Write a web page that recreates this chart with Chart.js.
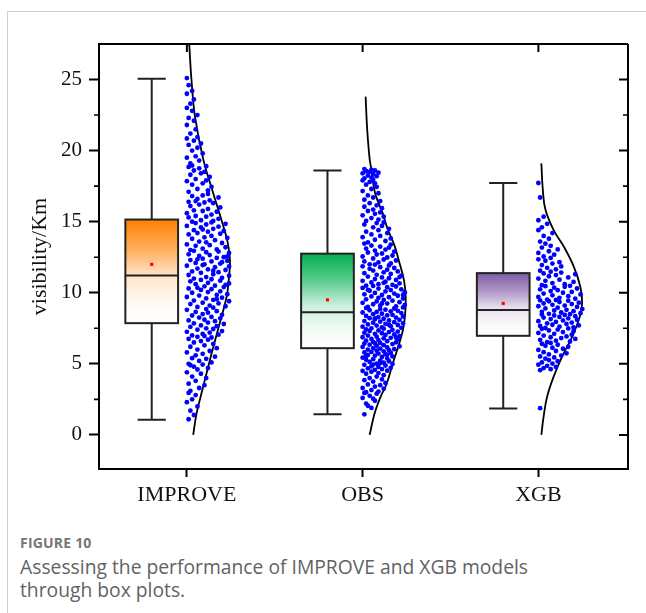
<!DOCTYPE html>
<html>
<head>
<meta charset="utf-8">
<script src="https://cdn.jsdelivr.net/npm/chart.js@4.4.0/dist/chart.umd.min.js"></script>
<style>
  body { margin: 0; background: #fff; width: 646px; height: 613px; overflow: hidden; position: relative; }
  #card { position: absolute; left: 7px; top: 11px; right: -2px; bottom: -2px; border-top: 1px solid #cfcfcf; border-left: 1px solid #cfcfcf; }
  #chart { position: absolute; left: 0; top: 0; }
  .fig { position: absolute; left: 20px; top: 533px; font-family: 'Open Sans', 'Noto Sans', sans-serif; font-weight: 700; font-size: 14px; color: #767676; letter-spacing: 0.2px; }
  .cap { position: absolute; left: 20px; top: 555px; font-family: 'Open Sans', 'Noto Sans', sans-serif; font-size: 19.3px; line-height: 23px; color: #626262; }
</style>
</head>
<body>
<div id="card"></div>
<canvas id="chart" width="646" height="520"></canvas>
<div class="fig">FIGURE 10</div>
<div class="cap">Assessing the performance of IMPROVE and XGB models<br>through box plots.</div>
<script>
/* ------------------------------------------------------------
   Box plots + jittered points + distribution curves
   ------------------------------------------------------------ */

// --- data ---------------------------------------------------
const CATEGORIES = ['IMPROVE', 'OBS', 'XGB'];
const WHISKER_LOW = [1.06, 1.45, 1.85];
const BOX_Q1 = [7.86, 6.1, 6.97];
const BOX_MEDIAN = [11.22, 8.62, 8.78];
const BOX_Q3 = [15.15, 12.75, 11.38];
const WHISKER_HIGH = [25.05, 18.6, 17.72];
const BOX_MEAN = [12.0, 9.5, 9.25];

const Y_LABEL_TICKS = [0, 5, 10, 15, 20, 25];
const Y_MINOR_TICKS = [2.5, 7.5, 12.5, 17.5, 22.5];

// distribution curves: [visibility, width (category units)]
const CURVE_IMPROVE = [
  [0, 0.036], [1.5, 0.055], [3.4, 0.093], [5.75, 0.141], [7.9, 0.188], [9.7, 0.226],
  [11, 0.239], [12.3, 0.245], [13.6, 0.231], [14.7, 0.207], [17, 0.15], [19.4, 0.093],
  [22.4, 0.046], [25, 0.026], [26.5, 0.018], [28.5, 0.009]
];
const CURVE_OBS = [
  [0, 0.04], [1.5, 0.068], [2.7, 0.103], [3.6, 0.137], [5, 0.171], [7.2, 0.226],
  [8.5, 0.242], [9.7, 0.245], [10.9, 0.235], [12.3, 0.205], [13.3, 0.182], [14.5, 0.142],
  [15.6, 0.114], [17, 0.071], [18.6, 0.051], [19.4, 0.04], [21.5, 0.026], [23.8, 0.017]
];
const CURVE_XGB = [
  [0, 0.017], [1.3, 0.03], [2.7, 0.05], [4.1, 0.087], [5.5, 0.135], [6.9, 0.192],
  [8.3, 0.235], [9.3, 0.249], [10.4, 0.239], [11.85, 0.201], [13.26, 0.144], [14.4, 0.087],
  [15.85, 0.04], [17.3, 0.025], [19.1, 0.017]
];

// raw points: [jitter (category units), visibility]
const PTS_IMPROVE = [
  [0.01,1.1],[0.04,1.4],[0.02,1.7],[0.06,2.0],[0.00,2.3],[0.03,2.5],[0.05,2.8],[0.01,2.95],
  [0.02,3.1],[0.07,3.3],[0.10,3.5],[0.01,3.6],[0.05,3.8],[0.11,4.0],[0.03,4.1],[0.08,4.3],[0.00,4.4],[0.06,4.6],[0.12,4.7],[0.04,4.8],[0.09,4.95],[0.02,4.9],
  [0.01,5.0],[0.14,5.1],[0.07,5.2],[0.11,5.35],[0.03,5.4],[0.16,5.5],[0.05,5.6],[0.09,5.7],[0.00,5.8],[0.13,5.9],[0.06,6.0],[0.17,6.1],[0.02,6.2],[0.10,6.3],[0.15,6.4],[0.04,6.5],[0.08,6.6],[0.12,6.7],[0.01,6.75],[0.14,6.85],[0.06,6.9],[0.10,6.95],
  [0.03,7.0],[0.18,7.05],[0.09,7.1],[0.13,7.2],[0.00,7.25],[0.20,7.3],[0.06,7.4],[0.15,7.45],[0.11,7.5],[0.02,7.6],[0.17,7.65],[0.08,7.7],[0.21,7.8],[0.04,7.85],[0.12,7.9],[0.16,8.0],[0.01,8.05],[0.10,8.1],[0.19,8.2],[0.07,8.25],[0.14,8.3],[0.03,8.4],[0.20,8.45],[0.09,8.5],[0.12,8.6],[0.05,8.65],[0.17,8.7],[0.00,8.8],[0.11,8.85],[0.15,8.95],
  [0.06,9.0],[0.22,9.05],[0.13,9.1],[0.02,9.2],[0.18,9.25],[0.09,9.3],[0.24,9.4],[0.04,9.45],[0.15,9.5],[0.11,9.6],[0.20,9.65],[0.00,9.7],[0.07,9.8],[0.17,9.85],[0.23,9.9],[0.03,10.0],[0.12,10.05],[0.19,10.1],[0.08,10.2],[0.14,10.25],[0.01,10.3],[0.21,10.4],[0.10,10.45],[0.16,10.5],[0.05,10.6],[0.24,10.65],[0.12,10.7],[0.02,10.8],[0.19,10.85],[0.08,10.9],[0.14,10.95],[0.22,10.55],[0.06,10.35],[0.17,9.55],
  [0.04,11.0],[0.20,11.05],[0.11,11.1],[0.24,11.2],[0.01,11.25],[0.15,11.3],[0.08,11.4],[0.18,11.45],[0.03,11.5],[0.22,11.6],[0.12,11.65],[0.06,11.7],[0.16,11.8],[0.24,11.85],[0.00,11.9],[0.10,12.0],[0.19,12.05],[0.05,12.1],[0.14,12.2],[0.23,12.25],[0.02,12.3],[0.09,12.4],[0.17,12.45],[0.21,12.5],[0.07,12.6],[0.13,12.65],[0.01,12.7],[0.24,12.8],[0.11,12.85],[0.18,12.9],[0.04,12.95],[0.15,11.55],[0.20,12.15],[0.09,11.95],[0.23,12.55],[0.06,12.35],
  [0.02,13.0],[0.17,13.05],[0.09,13.1],[0.22,13.2],[0.05,13.3],[0.13,13.35],[0.00,13.4],[0.20,13.5],[0.11,13.55],[0.07,13.6],[0.16,13.7],[0.03,13.8],[0.23,13.85],[0.10,13.9],[0.14,14.0],[0.01,14.1],[0.19,14.15],[0.06,14.2],[0.12,14.3],[0.21,14.35],[0.04,14.4],[0.15,14.5],[0.08,14.6],[0.18,14.65],[0.00,14.7],[0.11,14.8],[0.22,14.85],[0.05,14.9],[0.14,14.95],[0.09,14.45],
  [0.03,15.0],[0.15,15.05],[0.08,15.1],[0.18,15.2],[0.01,15.3],[0.11,15.35],[0.05,15.4],[0.14,15.5],[0.00,15.6],[0.17,15.7],[0.09,15.75],[0.04,15.8],[0.12,15.9],[0.19,16.0],[0.02,16.1],[0.07,16.2],[0.15,16.3],[0.10,16.35],[0.01,16.4],[0.13,16.5],[0.06,16.6],[0.18,16.7],[0.03,16.8],[0.09,16.85],[0.12,16.95],[0.05,16.45],
  [0.01,17.1],[0.12,17.2],[0.06,17.3],[0.14,17.45],[0.03,17.6],[0.09,17.7],[0.00,17.85],[0.11,17.9],[0.05,18.0],[0.13,18.15],[0.02,18.3],[0.08,18.4],[0.10,18.5],[0.04,18.6],[0.07,18.75],[0.01,18.85],[0.11,18.9],[0.03,18.95],
  [0.02,19.1],[0.07,19.3],[0.00,19.5],[0.05,19.6],[0.09,19.8],[0.03,20.0],[0.06,20.2],[0.01,20.4],[0.08,20.5],[0.04,20.7],[0.00,20.85],[0.06,20.95],
  [0.02,21.2],[0.05,21.5],[0.00,21.8],[0.04,22.1],[0.01,22.3],[0.06,22.5],[0.03,22.8],[0.00,23.0],
  [0.02,23.3],[0.04,23.6],[0.00,24.0],[0.03,24.2],[0.01,24.6],[0.00,25.1]
];
const PTS_OBS = [
  [0.01,1.45],[0.05,1.9],[0.02,2.2],[0.07,2.4],[0.00,2.6],[0.04,2.75],[0.08,2.9],[0.03,2.05],[0.06,2.55],[0.01,2.95],
  [0.02,3.0],[0.09,3.05],[0.05,3.15],[0.12,3.25],[0.00,3.3],[0.07,3.4],[0.10,3.5],[0.03,3.55],[0.13,3.65],[0.06,3.75],[0.01,3.85],[0.11,3.9],[0.04,4.0],[0.08,4.1],[0.12,4.2],[0.02,4.3],[0.09,4.35],[0.05,4.45],
  [0.00,4.5],[0.14,4.52],[0.07,4.58],[0.11,4.63],[0.03,4.68],[0.16,4.72],[0.09,4.78],[0.05,4.83],[0.13,4.88],[0.01,4.93],[0.17,4.98],[0.08,5.02],[0.12,5.08],[0.04,5.13],[0.15,5.18],[0.10,5.23],[0.02,5.28],[0.06,5.33],[0.14,5.38],[0.00,5.43],[0.11,5.48],[0.17,5.52],[0.07,5.57],[0.03,5.62],[0.13,5.67],[0.09,5.72],[0.16,5.76],[0.01,5.8],[0.05,5.84],[0.12,5.88],[0.08,5.92],[0.15,5.96],[0.02,5.55],[0.10,5.05],[0.06,4.95],[0.14,5.65],
  [0.03,6.0],[0.18,6.03],[0.10,6.07],[0.06,6.11],[0.14,6.15],[0.00,6.19],[0.21,6.23],[0.08,6.27],[0.12,6.31],[0.04,6.35],[0.17,6.39],[0.01,6.43],[0.10,6.47],[0.19,6.51],[0.06,6.55],[0.14,6.59],[0.02,6.63],[0.09,6.67],[0.20,6.71],[0.05,6.75],[0.12,6.79],[0.16,6.83],[0.00,6.87],[0.08,6.91],[0.21,6.95],[0.03,6.99],[0.13,7.03],[0.18,7.07],[0.07,7.11],[0.11,7.15],[0.01,7.19],[0.15,7.23],[0.20,7.27],[0.04,7.31],[0.09,7.35],[0.17,7.39],[0.02,7.43],[0.12,7.47],[0.07,6.45],[0.19,6.85],
  [0.05,7.5],[0.22,7.53],[0.11,7.57],[0.00,7.61],[0.16,7.65],[0.08,7.69],[0.20,7.73],[0.03,7.77],[0.13,7.81],[0.23,7.85],[0.06,7.89],[0.18,7.93],[0.10,7.97],[0.01,8.01],[0.15,8.05],[0.21,8.09],[0.07,8.13],[0.12,8.17],[0.04,8.21],[0.19,8.25],[0.09,8.29],[0.23,8.33],[0.02,8.37],[0.14,8.41],[0.17,8.45],[0.06,8.49],[0.11,8.53],[0.22,8.57],[0.00,8.61],[0.08,8.65],[0.16,8.69],[0.20,8.73],[0.04,8.77],[0.13,8.81],[0.10,8.85],[0.18,8.89],[0.02,8.93],[0.23,8.97],[0.07,8.2],[0.15,7.75],
  [0.03,9.0],[0.19,9.04],[0.10,9.09],[0.24,9.14],[0.06,9.19],[0.14,9.24],[0.00,9.29],[0.21,9.34],[0.08,9.39],[0.17,9.44],[0.12,9.49],[0.02,9.54],[0.23,9.59],[0.09,9.64],[0.15,9.69],[0.05,9.74],[0.20,9.79],[0.11,9.84],[0.01,9.89],[0.18,9.94],[0.07,9.99],[0.24,10.04],[0.13,10.09],[0.04,10.14],[0.16,10.19],[0.22,10.24],[0.09,10.29],[0.00,10.34],[0.14,10.39],[0.19,10.44],[0.06,10.48],[0.11,9.25],[0.23,9.85],[0.03,10.2],
  [0.02,10.5],[0.17,10.55],[0.09,10.6],[0.21,10.66],[0.05,10.72],[0.13,10.78],[0.00,10.84],[0.19,10.9],[0.07,10.96],[0.15,11.02],[0.11,11.08],[0.03,11.14],[0.22,11.2],[0.08,11.26],[0.16,11.32],[0.01,11.38],[0.12,11.44],[0.20,11.5],[0.06,11.56],[0.14,11.62],[0.04,11.68],[0.18,11.74],[0.10,11.8],[0.00,11.86],[0.15,11.92],[0.07,11.98],[0.21,11.1],[0.12,10.7],
  [0.04,12.0],[0.16,12.06],[0.09,12.13],[0.01,12.2],[0.19,12.27],[0.12,12.34],[0.06,12.41],[0.14,12.48],[0.00,12.55],[0.17,12.62],[0.08,12.69],[0.11,12.76],[0.03,12.83],[0.18,12.9],[0.07,12.97],[0.13,13.04],[0.02,13.11],[0.15,13.18],[0.10,13.25],[0.05,13.32],[0.16,13.39],[0.01,13.46],
  [0.03,13.55],[0.13,13.64],[0.07,13.73],[0.16,13.82],[0.00,13.91],[0.10,14.0],[0.05,14.1],[0.14,14.2],[0.02,14.3],[0.09,14.4],[0.15,14.5],[0.06,14.6],[0.11,14.7],[0.01,14.8],[0.08,14.9],[0.12,14.95],
  [0.02,15.05],[0.09,15.15],[0.05,15.25],[0.12,15.35],[0.00,15.45],[0.07,15.55],[0.10,15.65],[0.03,15.75],[0.06,15.85],[0.11,15.95],[0.01,16.05],[0.08,16.15],[0.04,16.3],[0.10,16.45],
  [0.01,16.55],[0.06,16.7],[0.03,16.85],[0.09,17.0],[0.00,17.15],[0.05,17.3],[0.08,17.45],[0.02,17.6],[0.07,17.7],[0.04,17.8],[0.00,17.9],[0.06,17.95],
  [0.01,18.05],[0.05,18.1],[0.08,18.2],[0.03,18.25],[0.06,18.35],[0.00,18.4],[0.09,18.45],[0.04,18.5],[0.02,18.55],[0.07,18.6],[0.05,18.65],[0.01,18.7]
];
const PTS_XGB = [
  [0.01,1.88],
  [0.01,4.55],[0.07,4.62],[0.03,4.7],[0.10,4.78],[0.05,4.86],[0.00,4.94],[0.08,5.02],[0.02,5.1],[0.11,5.18],[0.06,5.26],[0.04,5.36],[0.09,5.45],
  [0.01,5.52],[0.13,5.58],[0.06,5.66],[0.16,5.74],[0.03,5.82],[0.10,5.9],[0.00,5.98],[0.14,6.06],[0.08,6.13],[0.17,6.2],[0.04,6.27],[0.11,6.34],[0.02,6.41],[0.07,6.47],
  [0.05,6.52],[0.18,6.57],[0.10,6.63],[0.01,6.69],[0.21,6.75],[0.13,6.81],[0.07,6.87],[0.16,6.93],[0.03,6.99],[0.19,7.05],[0.09,7.11],[0.00,7.17],[0.14,7.23],[0.20,7.29],[0.06,7.35],[0.11,7.41],[0.02,7.46],[0.17,7.49],
  [0.04,7.52],[0.20,7.56],[0.12,7.61],[0.01,7.66],[0.23,7.7],[0.08,7.75],[0.16,7.8],[0.05,7.85],[0.19,7.9],[0.10,7.95],[0.00,8.0],[0.14,8.05],[0.22,8.1],[0.07,8.15],[0.17,8.2],[0.03,8.25],[0.12,8.3],[0.21,8.35],[0.09,8.4],[0.15,8.44],[0.02,8.47],[0.18,8.49],
  [0.06,8.52],[0.24,8.56],[0.13,8.61],[0.02,8.66],[0.20,8.7],[0.09,8.75],[0.16,8.8],[0.25,8.85],[0.04,8.9],[0.11,8.95],[0.22,9.0],[0.00,9.05],[0.15,9.1],[0.08,9.15],[0.19,9.2],[0.03,9.25],[0.23,9.3],[0.12,9.35],[0.06,9.4],[0.17,9.44],[0.01,9.47],[0.10,9.49],
  [0.05,9.52],[0.21,9.58],[0.12,9.64],[0.00,9.7],[0.17,9.76],[0.08,9.82],[0.24,9.88],[0.03,9.94],[0.14,10.0],[0.19,10.06],[0.07,10.12],[0.11,10.18],[0.01,10.24],[0.22,10.3],[0.09,10.36],[0.15,10.42],[0.04,10.46],[0.18,10.49],
  [0.02,10.53],[0.15,10.6],[0.08,10.68],[0.20,10.76],[0.04,10.84],[0.12,10.92],[0.00,11.0],[0.17,11.08],[0.06,11.16],[0.10,11.24],[0.21,11.3],[0.03,11.36],[0.13,11.42],[0.07,11.48],
  [0.01,11.55],[0.10,11.65],[0.05,11.75],[0.13,11.85],[0.02,11.95],[0.08,12.05],[0.12,12.15],[0.04,12.25],[0.00,12.35],[0.07,12.45],
  [0.03,12.55],[0.09,12.68],[0.00,12.8],[0.06,12.92],[0.11,13.05],[0.02,13.18],[0.07,13.3],[0.04,13.45],
  [0.01,13.6],[0.06,13.8],[0.03,14.0],[0.08,14.2],[0.00,14.4],
  [0.02,14.6],[0.05,14.85],[0.00,15.1],[0.03,15.35],
  [0.01,16.7],[0.00,17.72]
];

// --- style --------------------------------------------------
const BOX_COLORS = [[255, 128, 0], [0, 176, 80], [128, 92, 164]];
const AXIS_FONT = "'Liberation Serif', 'Times New Roman', serif";
const BOX_SHIFT = -0.2;
const BOX_HALF = 0.15;
const CAP_HALF = 0.08;
const LINE_COLOR = '#222';

// ---------------------------------------------------------
// Box / whisker drawing (uses chart scales)
// ---------------------------------------------------------
const boxPlugin = {
  id: 'boxes',
  beforeDatasetsDraw(chart) {
    const { ctx, scales: { x, y } } = chart;
    ctx.save();
    CATEGORIES.forEach((_, i) => {
      const c = i + 1 + BOX_SHIFT;
      const cx = x.getPixelForValue(c);
      const l = x.getPixelForValue(c - BOX_HALF);
      const r = x.getPixelForValue(c + BOX_HALF);
      const cl = x.getPixelForValue(c - CAP_HALF);
      const cr = x.getPixelForValue(c + CAP_HALF);
      const yLo = y.getPixelForValue(WHISKER_LOW[i]);
      const yQ1 = y.getPixelForValue(BOX_Q1[i]);
      const yMed = y.getPixelForValue(BOX_MEDIAN[i]);
      const yQ3 = y.getPixelForValue(BOX_Q3[i]);
      const yHi = y.getPixelForValue(WHISKER_HIGH[i]);

      ctx.strokeStyle = LINE_COLOR;
      ctx.lineWidth = 2;
      ctx.beginPath();
      ctx.moveTo(cx, yQ3); ctx.lineTo(cx, yHi);
      ctx.moveTo(cl, yHi); ctx.lineTo(cr, yHi);
      ctx.moveTo(cx, yQ1); ctx.lineTo(cx, yLo);
      ctx.moveTo(cl, yLo); ctx.lineTo(cr, yLo);
      ctx.stroke();

      // gradient fill: colour at Q3 fading to white at Q1
      const [R, G, B] = BOX_COLORS[i];
      const grad = ctx.createLinearGradient(0, yQ3, 0, yQ1);
      grad.addColorStop(0, `rgba(${R},${G},${B},1)`);
      grad.addColorStop(0.3, `rgba(${R},${G},${B},0.62)`);
      grad.addColorStop(0.55, `rgba(${R},${G},${B},0.2)`);
      grad.addColorStop(0.8, `rgba(${R},${G},${B},0.05)`);
      grad.addColorStop(1, `rgba(${R},${G},${B},0)`);
      ctx.fillStyle = '#fff';
      ctx.fillRect(l, yQ3, r - l, yQ1 - yQ3);
      ctx.fillStyle = grad;
      ctx.fillRect(l, yQ3, r - l, yQ1 - yQ3);

      ctx.strokeRect(l, yQ3, r - l, yQ1 - yQ3);
      ctx.beginPath();
      ctx.moveTo(l, yMed); ctx.lineTo(r, yMed);
      ctx.stroke();
    });
    ctx.restore();
  },
};

// ---------------------------------------------------------
// Frame: right/top borders, inward ticks, minor ticks
// ---------------------------------------------------------
const framePlugin = {
  id: 'frame',
  afterDraw(chart) {
    const { ctx, chartArea: a, scales: { x, y } } = chart;
    ctx.save();
    ctx.strokeStyle = '#000';
    ctx.lineWidth = 2;
    ctx.beginPath();
    ctx.moveTo(a.left - 1, a.top); ctx.lineTo(a.right, a.top);
    ctx.moveTo(a.right, a.top); ctx.lineTo(a.right, a.bottom + 1);
    ctx.stroke();

    ctx.beginPath();
    Y_LABEL_TICKS.forEach(v => {
      const py = y.getPixelForValue(v);
      ctx.moveTo(a.right, py); ctx.lineTo(a.right - 9, py);
    });
    CATEGORIES.forEach((_, i) => {
      const px = x.getPixelForValue(i + 1);
      ctx.moveTo(px, a.top); ctx.lineTo(px, a.top + 8);
    });
    ctx.stroke();

    ctx.lineWidth = 1.6;
    ctx.beginPath();
    Y_MINOR_TICKS.forEach(v => {
      const py = y.getPixelForValue(v);
      ctx.moveTo(a.left, py); ctx.lineTo(a.left - 5, py);
      ctx.moveTo(a.right, py); ctx.lineTo(a.right - 5, py);
    });
    ctx.stroke();
    ctx.restore();
  },
};

// ---------------------------------------------------------
// Datasets
// ---------------------------------------------------------
const POINT_SETS = [PTS_IMPROVE, PTS_OBS, PTS_XGB];
const CURVES = [CURVE_IMPROVE, CURVE_OBS, CURVE_XGB];

const datasets = [];
POINT_SETS.forEach((pts, i) => {
  datasets.push({
    type: 'scatter',
    label: CATEGORIES[i] + ' points',
    data: pts.map(([j, v]) => ({ x: i + 1 + j, y: v })),
    backgroundColor: '#0000ff',
    borderWidth: 0,
    pointRadius: 2.4,
  });
});
CURVES.forEach((curve, i) => {
  datasets.push({
    type: 'line',
    label: CATEGORIES[i] + ' curve',
    data: curve.map(([v, w]) => ({ x: i + 1 + w, y: v })),
    borderColor: '#000',
    borderWidth: 1.8,
    pointRadius: 0,
    tension: 0.4,
    fill: false,
  });
});
datasets.push({
  type: 'scatter',
  label: 'Mean',
  data: BOX_MEAN.map((m, i) => ({ x: i + 1 + BOX_SHIFT, y: m })),
  backgroundColor: '#ff0000',
  borderWidth: 0,
  pointStyle: 'rect',
  pointRadius: 2.2,
});

new Chart(document.getElementById('chart').getContext('2d'), {
  type: 'scatter',
  data: { datasets },
  options: {
    responsive: false,
    animation: false,
    devicePixelRatio: 1,
    layout: { padding: { left: 0, top: 44, right: 18, bottom: 0 } },
    plugins: { legend: { display: false }, tooltip: { enabled: false } },
    scales: {
      x: {
        type: 'linear',
        min: 0.5,
        max: 3.51,
        afterBuildTicks: (s) => { s.ticks = CATEGORIES.map((_, i) => ({ value: i + 1 })); },
        afterFit: (s) => { s.height = 51; },
        ticks: {
          callback: (v) => CATEGORIES[Math.round(v) - 1] || '',
          color: '#111',
          padding: 5,
          maxRotation: 0,
          font: { family: AXIS_FONT, size: 22 },
        },
        grid: { drawOnChartArea: false, tickLength: 8, tickWidth: 2, tickColor: '#000' },
        border: { color: '#000', width: 2 },
      },
      y: {
        type: 'linear',
        min: -2.4,
        max: 27.5,
        afterBuildTicks: (s) => { s.ticks = Y_LABEL_TICKS.map(v => ({ value: v })); },
        afterFit: (s) => { s.width = 99; },
        ticks: {
          color: '#111',
          padding: 7,
          font: { family: AXIS_FONT, size: 21 },
        },
        title: {
          display: true,
          text: 'visibility/Km',
          color: '#111',
          padding: { top: 27, bottom: 0 },
          font: { family: AXIS_FONT, size: 22 },
        },
        grid: { drawOnChartArea: false, tickLength: 10, tickWidth: 2, tickColor: '#000' },
        border: { color: '#000', width: 2 },
      },
    },
  },
  plugins: [boxPlugin, framePlugin],
});
</script>
</body>
</html>
